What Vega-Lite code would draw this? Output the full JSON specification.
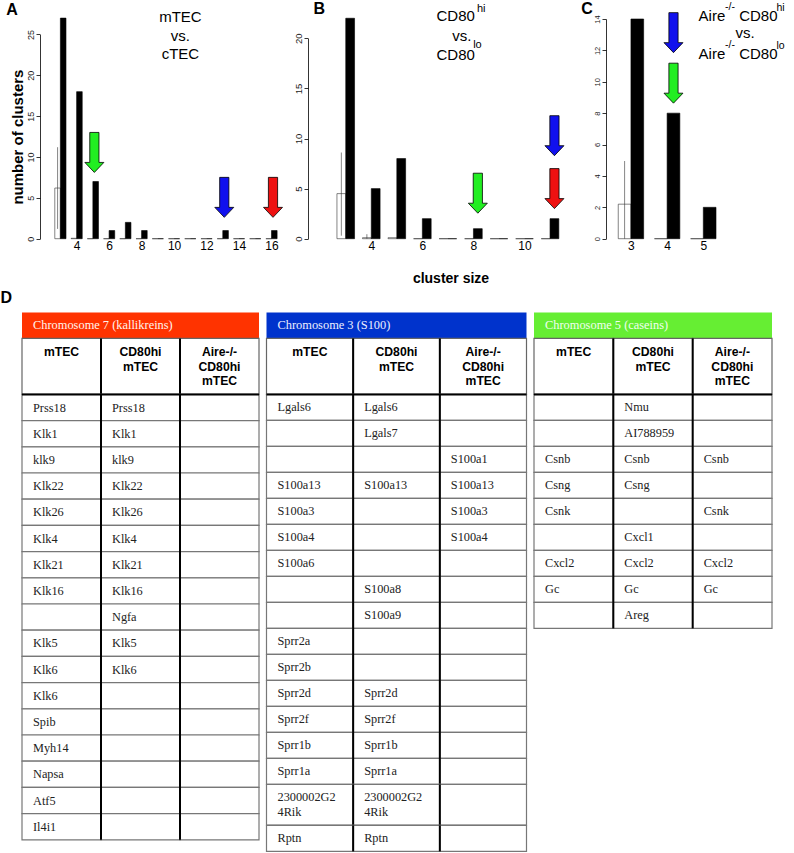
{
 "$schema": "https://vega.github.io/schema/vega-lite/v6.json",
 "padding": {"left": 0, "top": 1, "right": 0, "bottom": 0},
 "config": {"view": {"stroke": null}, "font": "Liberation Sans"},
 "spacing": 4.4,
 "bounds": "full",
 "vconcat": [
  {
   "spacing": 6,
   "bounds": "flush",
   "hconcat": [
    {
     "width": 285, "height": 219.7,
     "encoding": {
      "x": {"field": "size", "type": "quantitative", "scale": {"domain": [0.944, 17.878], "nice": false, "zero": false},
            "axis": {"values": [4, 6, 8, 10, 12, 14, 16], "domain": false, "ticks": false, "tickSize": 0, "grid": false, "labelFont": "Liberation Sans", "labelFontSize": 12, "labelColor": "black", "labelPadding": 2, "labelFlush": false, "labelOverlap": false, "title": null}},
      "y": {"field": "count", "type": "quantitative", "scale": {"domain": [0, 25], "nice": false, "zero": true, "range": [219.7, 15.45]},
            "axis": {"values": [0, 5, 10, 15, 20, 25], "grid": false, "domainColor": "black", "domainWidth": 0.8, "tickColor": "black", "tickWidth": 0.8, "tickSize": 4, "labelAngle": 270, "labelAlign": "center", "labelBaseline": "bottom", "labelFont": "Liberation Sans", "labelFontSize": 9, "labelColor": "#222", "labelPadding": 1, "labelOverlap": false, "title": "number of clusters", "titleFont": "Liberation Sans", "titleFontSize": 15, "titleFontWeight": "bold", "titleColor": "black", "titlePadding": 1, "offset": -18}}
     },
     "layer": [
      {"data": {"values": [{"size": 3, "count": 6.2}, {"size": 4, "count": 0.05}, {"size": 5, "count": 0}, {"size": 6, "count": 0}, {"size": 7, "count": 0}, {"size": 8, "count": 0}, {"size": 9, "count": 0}, {"size": 10, "count": 0}, {"size": 11, "count": 0}, {"size": 12, "count": 0}, {"size": 13, "count": 0}, {"size": 14, "count": 0}, {"size": 15, "count": 0}, {"size": 16, "count": 0}]},
       "mark": {"type": "bar", "orient": "vertical", "width": 5.6, "xOffset": -2.8, "fill": "white", "stroke": "#333", "strokeWidth": 0.6}},
      {"data": {"values": [{"size": 3, "lo": 1.2, "hi": 11.2}]},
       "mark": {"type": "rule", "xOffset": -2.8, "color": "#333", "strokeWidth": 0.6},
       "encoding": {"y": {"field": "lo", "type": "quantitative"}, "y2": {"field": "hi"}}},
      {"data": {"values": [{"size": 3, "count": 27}, {"size": 4, "count": 18}, {"size": 5, "count": 7}, {"size": 6, "count": 1}, {"size": 7, "count": 2}, {"size": 8, "count": 1}, {"size": 9, "count": 0}, {"size": 10, "count": 0}, {"size": 11, "count": 0}, {"size": 12, "count": 0}, {"size": 13, "count": 1}, {"size": 14, "count": 0}, {"size": 15, "count": 0}, {"size": 16, "count": 1}]},
       "mark": {"type": "bar", "orient": "vertical", "width": 5.6, "xOffset": 2.8, "fill": "black", "stroke": "black", "strokeWidth": 0.6}},
      {"data": {"values": [{"size": 5, "count": 10.56, "cluster": "Chromosome 5"}, {"size": 13, "count": 5.06, "cluster": "Chromosome 3"}, {"size": 16, "count": 5.06, "cluster": "Chromosome 7"}]},
       "mark": {"type": "point", "shape": "M-0.23,-1L0.23,-1L0.23,0.5L0.475,0.5L0,1L-0.475,0.5L-0.23,0.5Z", "size": 1600, "filled": true, "opacity": 1, "stroke": "black", "strokeWidth": 0.8, "xOffset": 1.5},
       "encoding": {"color": {"field": "cluster", "type": "nominal", "scale": {"domain": ["Chromosome 7", "Chromosome 3", "Chromosome 5"], "range": ["#ee1111", "#1111ee", "#22ee22"]}, "legend": null}}},
      {"data": {"values": [{"size": 10.392, "count": 26.47, "label": "mTEC"}, {"size": 10.392, "count": 24.23, "label": "vs."}, {"size": 10.392, "count": 22.0, "label": "cTEC"}]},
       "mark": {"type": "text", "align": "center", "baseline": "alphabetic", "font": "Liberation Sans", "fontSize": 15, "color": "black"},
       "encoding": {"text": {"field": "label"}}},
      {"data": {"values": [{"size": -0.333, "count": 27.42, "label": "A"}]},
       "mark": {"type": "text", "align": "left", "baseline": "alphabetic", "font": "Liberation Sans", "fontSize": 16, "fontWeight": "bold", "color": "black"},
       "encoding": {"text": {"field": "label"}}}
     ]
    },
    {
     "width": 275, "height": 219.7,
     "encoding": {
      "x": {"field": "size", "type": "quantitative", "scale": {"domain": [1.9132, 12.291], "nice": false, "zero": false},
            "axis": {"values": [4, 6, 8, 10], "domain": false, "ticks": false, "tickSize": 0, "grid": false, "labelFont": "Liberation Sans", "labelFontSize": 12, "labelColor": "black", "labelPadding": 2, "labelFlush": false, "labelOverlap": false, "title": "cluster size", "titleFont": "Liberation Sans", "titleFontSize": 14, "titleFontWeight": "bold", "titleColor": "black", "titlePadding": 20}},
      "y": {"field": "count", "type": "quantitative", "scale": {"domain": [0, 20], "nice": false, "zero": true, "range": [219.7, 19.3]},
            "axis": {"values": [0, 5, 10, 15, 20], "grid": false, "domainColor": "black", "domainWidth": 0.8, "tickColor": "black", "tickWidth": 0.8, "tickSize": 4, "labelAngle": 270, "labelAlign": "center", "labelBaseline": "bottom", "labelFont": "Liberation Sans", "labelFontSize": 9.5, "labelColor": "#222", "labelPadding": 1, "labelOverlap": false, "title": null, "offset": 5}}
     },
     "layer": [
      {"data": {"values": [{"size": 3, "count": 4.5}, {"size": 4, "count": 0.1}, {"size": 5, "count": 0.1}, {"size": 6, "count": 0}, {"size": 7, "count": 0}, {"size": 8, "count": 0}, {"size": 9, "count": 0}, {"size": 10, "count": 0}, {"size": 11, "count": 0}]},
       "mark": {"type": "bar", "orient": "vertical", "width": 8.8, "xOffset": -4.4, "fill": "white", "stroke": "#333", "strokeWidth": 0.6}},
      {"data": {"values": [{"size": 3, "lo": 0.3, "hi": 8.6}, {"size": 4, "lo": 0, "hi": 0.45}]},
       "mark": {"type": "rule", "xOffset": -4.4, "color": "#333", "strokeWidth": 0.6},
       "encoding": {"y": {"field": "lo", "type": "quantitative"}, "y2": {"field": "hi"}}},
      {"data": {"values": [{"size": 3, "count": 22}, {"size": 4, "count": 5}, {"size": 5, "count": 8}, {"size": 6, "count": 2}, {"size": 7, "count": 0}, {"size": 8, "count": 1}, {"size": 9, "count": 0}, {"size": 10, "count": 0}, {"size": 11, "count": 2}]},
       "mark": {"type": "bar", "orient": "vertical", "width": 8.8, "xOffset": 4.4, "fill": "black", "stroke": "black", "strokeWidth": 0.6}},
      {"data": {"values": [{"size": 8, "count": 4.54, "cluster": "Chromosome 5"}, {"size": 11, "count": 10.28, "cluster": "Chromosome 3"}, {"size": 11, "count": 5.0, "cluster": "Chromosome 7"}]},
       "mark": {"type": "point", "shape": "M-0.23,-1L0.23,-1L0.23,0.5L0.475,0.5L0,1L-0.475,0.5L-0.23,0.5Z", "size": 1600, "filled": true, "opacity": 1, "stroke": "black", "strokeWidth": 0.8, "xOffset": 4.4},
       "encoding": {"color": {"field": "cluster", "type": "nominal", "scale": {"domain": ["Chromosome 7", "Chromosome 3", "Chromosome 5"], "range": ["#ee1111", "#1111ee", "#22ee22"]}, "legend": null}}},
      {"data": {"values": [{"size": 6.555, "count": 21.69, "label": "CD80"}, {"size": 7.17, "count": 19.73, "label": "vs."}, {"size": 6.555, "count": 17.83, "label": "CD80"}]},
       "mark": {"type": "text", "align": "left", "baseline": "alphabetic", "font": "Liberation Sans", "fontSize": 15, "color": "black"},
       "encoding": {"text": {"field": "label"}}},
      {"data": {"values": [{"size": 8.14, "count": 22.65, "label": "hi"}, {"size": 7.989, "count": 19.06, "label": "lo"}]},
       "mark": {"type": "text", "align": "left", "baseline": "alphabetic", "font": "Liberation Sans", "fontSize": 11, "color": "black"},
       "encoding": {"text": {"field": "label"}}},
      {"data": {"values": [{"size": 1.736, "count": 22.4, "label": "B"}]},
       "mark": {"type": "text", "align": "left", "baseline": "alphabetic", "font": "Liberation Sans", "fontSize": 16, "fontWeight": "bold", "color": "black"},
       "encoding": {"text": {"field": "label"}}}
     ]
    },
    {
     "width": 166, "height": 219.7,
     "encoding": {
      "x": {"field": "size", "type": "quantitative", "scale": {"domain": [2.1169, 6.4286], "nice": false, "zero": false},
            "axis": {"values": [3, 4, 5], "domain": false, "ticks": false, "tickSize": 0, "grid": false, "labelFont": "Liberation Sans", "labelFontSize": 12, "labelColor": "black", "labelPadding": 2, "labelFlush": false, "labelOverlap": false, "title": null}},
      "y": {"field": "count", "type": "quantitative", "scale": {"domain": [0, 14], "nice": false, "zero": true, "range": [219.7, 0]},
            "axis": {"values": [0, 2, 4, 6, 8, 10, 12, 14], "grid": false, "domainColor": "black", "domainWidth": 0.8, "tickColor": "black", "tickWidth": 0.8, "tickSize": 4, "labelAngle": 270, "labelAlign": "center", "labelBaseline": "bottom", "labelFont": "Liberation Sans", "labelFontSize": 7.5, "labelColor": "#222", "labelPadding": 1, "labelOverlap": false, "title": null, "offset": -12}}
     },
     "layer": [
      {"data": {"values": [{"size": 3, "count": 2.2}, {"size": 4, "count": 0}, {"size": 5, "count": 0}]},
       "mark": {"type": "bar", "orient": "vertical", "width": 12.7, "xOffset": -6.35, "fill": "white", "stroke": "#333", "strokeWidth": 0.6}},
      {"data": {"values": [{"size": 3, "lo": 0, "hi": 4.95}]},
       "mark": {"type": "rule", "xOffset": -6.35, "color": "#333", "strokeWidth": 0.6},
       "encoding": {"y": {"field": "lo", "type": "quantitative"}, "y2": {"field": "hi"}}},
      {"data": {"values": [{"size": 3, "count": 14}, {"size": 4, "count": 8}, {"size": 5, "count": 2}]},
       "mark": {"type": "bar", "orient": "vertical", "width": 12.7, "xOffset": 6.35, "fill": "black", "stroke": "black", "strokeWidth": 0.6}},
      {"data": {"values": [{"size": 4, "count": 13.13, "cluster": "Chromosome 3"}, {"size": 4, "count": 9.91, "cluster": "Chromosome 5"}]},
       "mark": {"type": "point", "shape": "M-0.23,-1L0.23,-1L0.23,0.5L0.475,0.5L0,1L-0.475,0.5L-0.23,0.5Z", "size": 1600, "filled": true, "opacity": 1, "stroke": "black", "strokeWidth": 0.8, "xOffset": 6.35},
       "encoding": {"color": {"field": "cluster", "type": "nominal", "scale": {"domain": ["Chromosome 7", "Chromosome 3", "Chromosome 5"], "range": ["#ee1111", "#1111ee", "#22ee22"]}, "legend": null}}},
      {"data": {"values": [{"size": 4.87, "count": 13.85, "label": "Aire"}, {"size": 5.99, "count": 13.85, "label": "CD80"}, {"size": 5.888, "count": 12.79, "label": "vs."}, {"size": 4.87, "count": 11.45, "label": "Aire"}, {"size": 5.99, "count": 11.45, "label": "CD80"}]},
       "mark": {"type": "text", "align": "left", "baseline": "alphabetic", "font": "Liberation Sans", "fontSize": 15, "color": "black"},
       "encoding": {"text": {"field": "label"}}},
      {"data": {"values": [{"size": 5.6, "count": 14.6, "label": "-/-"}, {"size": 7.02, "count": 14.53, "label": "hi"}, {"size": 5.6, "count": 12.17, "label": "-/-"}, {"size": 7.02, "count": 12.11, "label": "lo"}]},
       "mark": {"type": "text", "align": "left", "baseline": "alphabetic", "font": "Liberation Sans", "fontSize": 10.5, "color": "black"},
       "encoding": {"text": {"field": "label"}}},
      {"data": {"values": [{"size": 1.623, "count": 14.31, "label": "C"}]},
       "mark": {"type": "text", "align": "left", "baseline": "alphabetic", "font": "Liberation Sans", "fontSize": 16, "fontWeight": "bold", "color": "black"},
       "encoding": {"text": {"field": "label"}}}
     ]
    }
   ]
  },
  {
   "spacing": 5.5,
   "bounds": "full",
   "hconcat": [
    {
     "spacing": 0, "bounds": "flush",
     "vconcat": [
      {"width": 237, "height": 26,
       "data": {"values": [{"t": "Chromosome 7 (kallikreins)", "panel": "D"}]},
       "layer": [
        {"mark": {"type": "rect", "fill": "#ff3300"},
         "encoding": {"x": {"field": "t", "type": "nominal", "axis": null, "scale": {"paddingInner": 0, "paddingOuter": 0}}, "y": {"field": "t", "type": "nominal", "axis": null, "scale": {"paddingInner": 0, "paddingOuter": 0}}}},
        {"mark": {"type": "text", "align": "left", "baseline": "middle", "dx": 11, "font": "Liberation Serif", "fontSize": 12.4, "color": "#fff4ee"},
         "encoding": {"x": {"field": "t", "type": "nominal", "bandPosition": 0, "axis": null}, "y": {"field": "t", "type": "nominal", "axis": null}, "text": {"field": "t"}}},
        {"mark": {"type": "text", "align": "left", "baseline": "alphabetic", "dx": -21.5, "dy": -22, "font": "Liberation Sans", "fontSize": 16, "fontWeight": "bold", "color": "black"},
         "encoding": {"x": {"field": "t", "type": "nominal", "bandPosition": 0, "axis": null}, "y": {"field": "t", "type": "nominal", "axis": null}, "text": {"field": "panel"}}}
       ]},
      {"width": 237, "height": 56,
       "data": {"values": [{"key": "mTEC", "label": "mTEC"}, {"key": "CD80hi", "label": "CD80hi\nmTEC"}, {"key": "Aire", "label": "Aire-/-\nCD80hi\nmTEC"}]},
       "layer": [
        {"mark": {"type": "rect", "fill": "white", "stroke": "#666", "strokeWidth": 1.2},
         "encoding": {"x": {"field": "key", "type": "nominal", "sort": ["mTEC", "CD80hi", "Aire"], "axis": null, "scale": {"paddingInner": 0, "paddingOuter": 0}}}},
        {"transform": [{"filter": "datum.key !== 'mTEC'"}],
         "mark": {"type": "rule", "color": "black", "strokeWidth": 2},
         "encoding": {"x": {"field": "key", "type": "nominal", "sort": ["mTEC", "CD80hi", "Aire"], "bandPosition": 0, "axis": null}}},
        {"mark": {"type": "text", "align": "center", "baseline": "top", "dy": -20.5, "font": "Liberation Sans", "fontSize": 12.2, "fontWeight": "bold", "lineBreak": "\n", "lineHeight": 14.7, "color": "black"},
         "encoding": {"x": {"field": "key", "type": "nominal", "sort": ["mTEC", "CD80hi", "Aire"], "axis": null}, "text": {"field": "label"}}}
       ]},
      {"width": 237, "height": 445.4,
       "data": {"values": [
        {"r": 1, "mTEC": "Prss18", "CD80hi": "Prss18", "Aire": ""},
        {"r": 2, "mTEC": "Klk1", "CD80hi": "Klk1", "Aire": ""},
        {"r": 3, "mTEC": "klk9", "CD80hi": "klk9", "Aire": ""},
        {"r": 4, "mTEC": "Klk22", "CD80hi": "Klk22", "Aire": ""},
        {"r": 5, "mTEC": "Klk26", "CD80hi": "Klk26", "Aire": ""},
        {"r": 6, "mTEC": "Klk4", "CD80hi": "Klk4", "Aire": ""},
        {"r": 7, "mTEC": "Klk21", "CD80hi": "Klk21", "Aire": ""},
        {"r": 8, "mTEC": "Klk16", "CD80hi": "Klk16", "Aire": ""},
        {"r": 9, "mTEC": "", "CD80hi": "Ngfa", "Aire": ""},
        {"r": 10, "mTEC": "Klk5", "CD80hi": "Klk5", "Aire": ""},
        {"r": 11, "mTEC": "Klk6", "CD80hi": "Klk6", "Aire": ""},
        {"r": 12, "mTEC": "Klk6", "CD80hi": "", "Aire": ""},
        {"r": 13, "mTEC": "Spib", "CD80hi": "", "Aire": ""},
        {"r": 14, "mTEC": "Myh14", "CD80hi": "", "Aire": ""},
        {"r": 15, "mTEC": "Napsa", "CD80hi": "", "Aire": ""},
        {"r": 16, "mTEC": "Atf5", "CD80hi": "", "Aire": ""},
        {"r": 17, "mTEC": "Il4i1", "CD80hi": "", "Aire": ""}
       ]},
       "transform": [{"fold": ["mTEC", "CD80hi", "Aire"]}],
       "layer": [
        {"mark": {"type": "rect", "fill": "white", "stroke": "#777", "strokeWidth": 1.2},
         "encoding": {"x": {"field": "key", "type": "nominal", "sort": ["mTEC", "CD80hi", "Aire"], "axis": null, "scale": {"paddingInner": 0, "paddingOuter": 0}}, "y": {"field": "r", "type": "ordinal", "axis": null, "scale": {"paddingInner": 0, "paddingOuter": 0}}}},
        {"mark": {"type": "text", "align": "left", "baseline": "middle", "dx": 11, "font": "Liberation Serif", "fontSize": 12.3, "color": "#222"},
         "encoding": {"x": {"field": "key", "type": "nominal", "sort": ["mTEC", "CD80hi", "Aire"], "bandPosition": 0, "axis": null}, "y": {"field": "r", "type": "ordinal", "axis": null}, "text": {"field": "value"}}},
        {"transform": [{"filter": "datum.key !== 'mTEC' && datum.r === 1"}],
         "mark": {"type": "rule", "color": "black", "strokeWidth": 2},
         "encoding": {"x": {"field": "key", "type": "nominal", "sort": ["mTEC", "CD80hi", "Aire"], "bandPosition": 0, "axis": null}}},
        {"transform": [{"filter": "datum.key === 'mTEC' && datum.r === 1"}],
         "mark": {"type": "rule", "color": "black", "strokeWidth": 2},
         "encoding": {"y": {"field": "r", "type": "ordinal", "bandPosition": 0, "axis": null}}}
       ]}
     ]
    },
    {
     "spacing": 0, "bounds": "flush",
     "vconcat": [
      {"width": 260, "height": 26,
       "data": {"values": [{"t": "Chromosome 3 (S100)"}]},
       "layer": [
        {"mark": {"type": "rect", "fill": "#0033cc"},
         "encoding": {"x": {"field": "t", "type": "nominal", "axis": null, "scale": {"paddingInner": 0, "paddingOuter": 0}}, "y": {"field": "t", "type": "nominal", "axis": null, "scale": {"paddingInner": 0, "paddingOuter": 0}}}},
        {"mark": {"type": "text", "align": "left", "baseline": "middle", "dx": 11, "font": "Liberation Serif", "fontSize": 12.4, "color": "#eef0ff"},
         "encoding": {"x": {"field": "t", "type": "nominal", "bandPosition": 0, "axis": null}, "y": {"field": "t", "type": "nominal", "axis": null}, "text": {"field": "t"}}}
       ]},
      {"width": 260, "height": 56,
       "data": {"values": [{"key": "mTEC", "label": "mTEC"}, {"key": "CD80hi", "label": "CD80hi\nmTEC"}, {"key": "Aire", "label": "Aire-/-\nCD80hi\nmTEC"}]},
       "layer": [
        {"mark": {"type": "rect", "fill": "white", "stroke": "#666", "strokeWidth": 1.2},
         "encoding": {"x": {"field": "key", "type": "nominal", "sort": ["mTEC", "CD80hi", "Aire"], "axis": null, "scale": {"paddingInner": 0, "paddingOuter": 0}}}},
        {"transform": [{"filter": "datum.key !== 'mTEC'"}],
         "mark": {"type": "rule", "color": "black", "strokeWidth": 2},
         "encoding": {"x": {"field": "key", "type": "nominal", "sort": ["mTEC", "CD80hi", "Aire"], "bandPosition": 0, "axis": null}}},
        {"mark": {"type": "text", "align": "center", "baseline": "top", "dy": -20.5, "font": "Liberation Sans", "fontSize": 12.2, "fontWeight": "bold", "lineBreak": "\n", "lineHeight": 14.7, "color": "black"},
         "encoding": {"x": {"field": "key", "type": "nominal", "sort": ["mTEC", "CD80hi", "Aire"], "axis": null}, "text": {"field": "label"}}}
       ]},
      {"width": 260, "height": 390,
       "data": {"values": [
        {"r": 1, "mTEC": "Lgals6", "CD80hi": "Lgals6", "Aire": ""},
        {"r": 2, "mTEC": "", "CD80hi": "Lgals7", "Aire": ""},
        {"r": 3, "mTEC": "", "CD80hi": "", "Aire": "S100a1"},
        {"r": 4, "mTEC": "S100a13", "CD80hi": "S100a13", "Aire": "S100a13"},
        {"r": 5, "mTEC": "S100a3", "CD80hi": "", "Aire": "S100a3"},
        {"r": 6, "mTEC": "S100a4", "CD80hi": "", "Aire": "S100a4"},
        {"r": 7, "mTEC": "S100a6", "CD80hi": "", "Aire": ""},
        {"r": 8, "mTEC": "", "CD80hi": "S100a8", "Aire": ""},
        {"r": 9, "mTEC": "", "CD80hi": "S100a9", "Aire": ""},
        {"r": 10, "mTEC": "Sprr2a", "CD80hi": "", "Aire": ""},
        {"r": 11, "mTEC": "Sprr2b", "CD80hi": "", "Aire": ""},
        {"r": 12, "mTEC": "Sprr2d", "CD80hi": "Sprr2d", "Aire": ""},
        {"r": 13, "mTEC": "Sprr2f", "CD80hi": "Sprr2f", "Aire": ""},
        {"r": 14, "mTEC": "Sprr1b", "CD80hi": "Sprr1b", "Aire": ""},
        {"r": 15, "mTEC": "Sprr1a", "CD80hi": "Sprr1a", "Aire": ""}
       ]},
       "transform": [{"fold": ["mTEC", "CD80hi", "Aire"]}],
       "layer": [
        {"mark": {"type": "rect", "fill": "white", "stroke": "#777", "strokeWidth": 1.2},
         "encoding": {"x": {"field": "key", "type": "nominal", "sort": ["mTEC", "CD80hi", "Aire"], "axis": null, "scale": {"paddingInner": 0, "paddingOuter": 0}}, "y": {"field": "r", "type": "ordinal", "axis": null, "scale": {"paddingInner": 0, "paddingOuter": 0}}}},
        {"mark": {"type": "text", "align": "left", "baseline": "middle", "dx": 11, "font": "Liberation Serif", "fontSize": 12.3, "color": "#222"},
         "encoding": {"x": {"field": "key", "type": "nominal", "sort": ["mTEC", "CD80hi", "Aire"], "bandPosition": 0, "axis": null}, "y": {"field": "r", "type": "ordinal", "axis": null}, "text": {"field": "value"}}},
        {"transform": [{"filter": "datum.key !== 'mTEC' && datum.r === 1"}],
         "mark": {"type": "rule", "color": "black", "strokeWidth": 2},
         "encoding": {"x": {"field": "key", "type": "nominal", "sort": ["mTEC", "CD80hi", "Aire"], "bandPosition": 0, "axis": null}}},
        {"transform": [{"filter": "datum.key === 'mTEC' && datum.r === 1"}],
         "mark": {"type": "rule", "color": "black", "strokeWidth": 2},
         "encoding": {"y": {"field": "r", "type": "ordinal", "bandPosition": 0, "axis": null}}}
       ]},
      {"width": 260, "height": 40.7,
       "data": {"values": [
        {"r": 16, "mTEC": "2300002G2\n4Rik", "CD80hi": "2300002G2\n4Rik", "Aire": ""}
       ]},
       "transform": [{"fold": ["mTEC", "CD80hi", "Aire"]}],
       "layer": [
        {"mark": {"type": "rect", "fill": "white", "stroke": "#777", "strokeWidth": 1.2},
         "encoding": {"x": {"field": "key", "type": "nominal", "sort": ["mTEC", "CD80hi", "Aire"], "axis": null, "scale": {"paddingInner": 0, "paddingOuter": 0}}, "y": {"field": "r", "type": "ordinal", "axis": null, "scale": {"paddingInner": 0, "paddingOuter": 0}}}},
        {"mark": {"type": "text", "align": "left", "baseline": "middle", "dx": 11, "dy": -7.5, "font": "Liberation Serif", "fontSize": 12.3, "color": "#222", "lineBreak": "\n", "lineHeight": 15},
         "encoding": {"x": {"field": "key", "type": "nominal", "sort": ["mTEC", "CD80hi", "Aire"], "bandPosition": 0, "axis": null}, "y": {"field": "r", "type": "ordinal", "axis": null}, "text": {"field": "value"}}},
        {"transform": [{"filter": "datum.key !== 'mTEC'"}],
         "mark": {"type": "rule", "color": "black", "strokeWidth": 2},
         "encoding": {"x": {"field": "key", "type": "nominal", "sort": ["mTEC", "CD80hi", "Aire"], "bandPosition": 0, "axis": null}}}
       ]},
      {"width": 260, "height": 26,
       "data": {"values": [
        {"r": 17, "mTEC": "Rptn", "CD80hi": "Rptn", "Aire": ""}
       ]},
       "transform": [{"fold": ["mTEC", "CD80hi", "Aire"]}],
       "layer": [
        {"mark": {"type": "rect", "fill": "white", "stroke": "#777", "strokeWidth": 1.2},
         "encoding": {"x": {"field": "key", "type": "nominal", "sort": ["mTEC", "CD80hi", "Aire"], "axis": null, "scale": {"paddingInner": 0, "paddingOuter": 0}}, "y": {"field": "r", "type": "ordinal", "axis": null, "scale": {"paddingInner": 0, "paddingOuter": 0}}}},
        {"mark": {"type": "text", "align": "left", "baseline": "middle", "dx": 11, "font": "Liberation Serif", "fontSize": 12.3, "color": "#222"},
         "encoding": {"x": {"field": "key", "type": "nominal", "sort": ["mTEC", "CD80hi", "Aire"], "bandPosition": 0, "axis": null}, "y": {"field": "r", "type": "ordinal", "axis": null}, "text": {"field": "value"}}},
        {"transform": [{"filter": "datum.key !== 'mTEC'"}],
         "mark": {"type": "rule", "color": "black", "strokeWidth": 2},
         "encoding": {"x": {"field": "key", "type": "nominal", "sort": ["mTEC", "CD80hi", "Aire"], "bandPosition": 0, "axis": null}}}
       ]}
     ]
    },
    {
     "spacing": 0, "bounds": "flush",
     "vconcat": [
      {"width": 238, "height": 26,
       "data": {"values": [{"t": "Chromosome 5 (caseins)"}]},
       "layer": [
        {"mark": {"type": "rect", "fill": "#66ee33"},
         "encoding": {"x": {"field": "t", "type": "nominal", "axis": null, "scale": {"paddingInner": 0, "paddingOuter": 0}}, "y": {"field": "t", "type": "nominal", "axis": null, "scale": {"paddingInner": 0, "paddingOuter": 0}}}},
        {"mark": {"type": "text", "align": "left", "baseline": "middle", "dx": 11, "font": "Liberation Serif", "fontSize": 12.4, "color": "#f0fff0"},
         "encoding": {"x": {"field": "t", "type": "nominal", "bandPosition": 0, "axis": null}, "y": {"field": "t", "type": "nominal", "axis": null}, "text": {"field": "t"}}}
       ]},
      {"width": 238, "height": 56,
       "data": {"values": [{"key": "mTEC", "label": "mTEC"}, {"key": "CD80hi", "label": "CD80hi\nmTEC"}, {"key": "Aire", "label": "Aire-/-\nCD80hi\nmTEC"}]},
       "layer": [
        {"mark": {"type": "rect", "fill": "white", "stroke": "#666", "strokeWidth": 1.2},
         "encoding": {"x": {"field": "key", "type": "nominal", "sort": ["mTEC", "CD80hi", "Aire"], "axis": null, "scale": {"paddingInner": 0, "paddingOuter": 0}}}},
        {"transform": [{"filter": "datum.key !== 'mTEC'"}],
         "mark": {"type": "rule", "color": "black", "strokeWidth": 2},
         "encoding": {"x": {"field": "key", "type": "nominal", "sort": ["mTEC", "CD80hi", "Aire"], "bandPosition": 0, "axis": null}}},
        {"mark": {"type": "text", "align": "center", "baseline": "top", "dy": -20.5, "font": "Liberation Sans", "fontSize": 12.2, "fontWeight": "bold", "lineBreak": "\n", "lineHeight": 14.7, "color": "black"},
         "encoding": {"x": {"field": "key", "type": "nominal", "sort": ["mTEC", "CD80hi", "Aire"], "axis": null}, "text": {"field": "label"}}}
       ]},
      {"width": 238, "height": 234,
       "data": {"values": [
        {"r": 1, "mTEC": "", "CD80hi": "Nmu", "Aire": ""},
        {"r": 2, "mTEC": "", "CD80hi": "AI788959", "Aire": ""},
        {"r": 3, "mTEC": "Csnb", "CD80hi": "Csnb", "Aire": "Csnb"},
        {"r": 4, "mTEC": "Csng", "CD80hi": "Csng", "Aire": ""},
        {"r": 5, "mTEC": "Csnk", "CD80hi": "", "Aire": "Csnk"},
        {"r": 6, "mTEC": "", "CD80hi": "Cxcl1", "Aire": ""},
        {"r": 7, "mTEC": "Cxcl2", "CD80hi": "Cxcl2", "Aire": "Cxcl2"},
        {"r": 8, "mTEC": "Gc", "CD80hi": "Gc", "Aire": "Gc"},
        {"r": 9, "mTEC": "", "CD80hi": "Areg", "Aire": ""}
       ]},
       "transform": [{"fold": ["mTEC", "CD80hi", "Aire"]}],
       "layer": [
        {"mark": {"type": "rect", "fill": "white", "stroke": "#777", "strokeWidth": 1.2},
         "encoding": {"x": {"field": "key", "type": "nominal", "sort": ["mTEC", "CD80hi", "Aire"], "axis": null, "scale": {"paddingInner": 0, "paddingOuter": 0}}, "y": {"field": "r", "type": "ordinal", "axis": null, "scale": {"paddingInner": 0, "paddingOuter": 0}}}},
        {"mark": {"type": "text", "align": "left", "baseline": "middle", "dx": 11, "font": "Liberation Serif", "fontSize": 12.3, "color": "#222"},
         "encoding": {"x": {"field": "key", "type": "nominal", "sort": ["mTEC", "CD80hi", "Aire"], "bandPosition": 0, "axis": null}, "y": {"field": "r", "type": "ordinal", "axis": null}, "text": {"field": "value"}}},
        {"transform": [{"filter": "datum.key !== 'mTEC' && datum.r === 1"}],
         "mark": {"type": "rule", "color": "black", "strokeWidth": 2},
         "encoding": {"x": {"field": "key", "type": "nominal", "sort": ["mTEC", "CD80hi", "Aire"], "bandPosition": 0, "axis": null}}},
        {"transform": [{"filter": "datum.key === 'mTEC' && datum.r === 1"}],
         "mark": {"type": "rule", "color": "black", "strokeWidth": 2},
         "encoding": {"y": {"field": "r", "type": "ordinal", "bandPosition": 0, "axis": null}}}
       ]}
     ]
    }
   ]
  }
 ]
}
